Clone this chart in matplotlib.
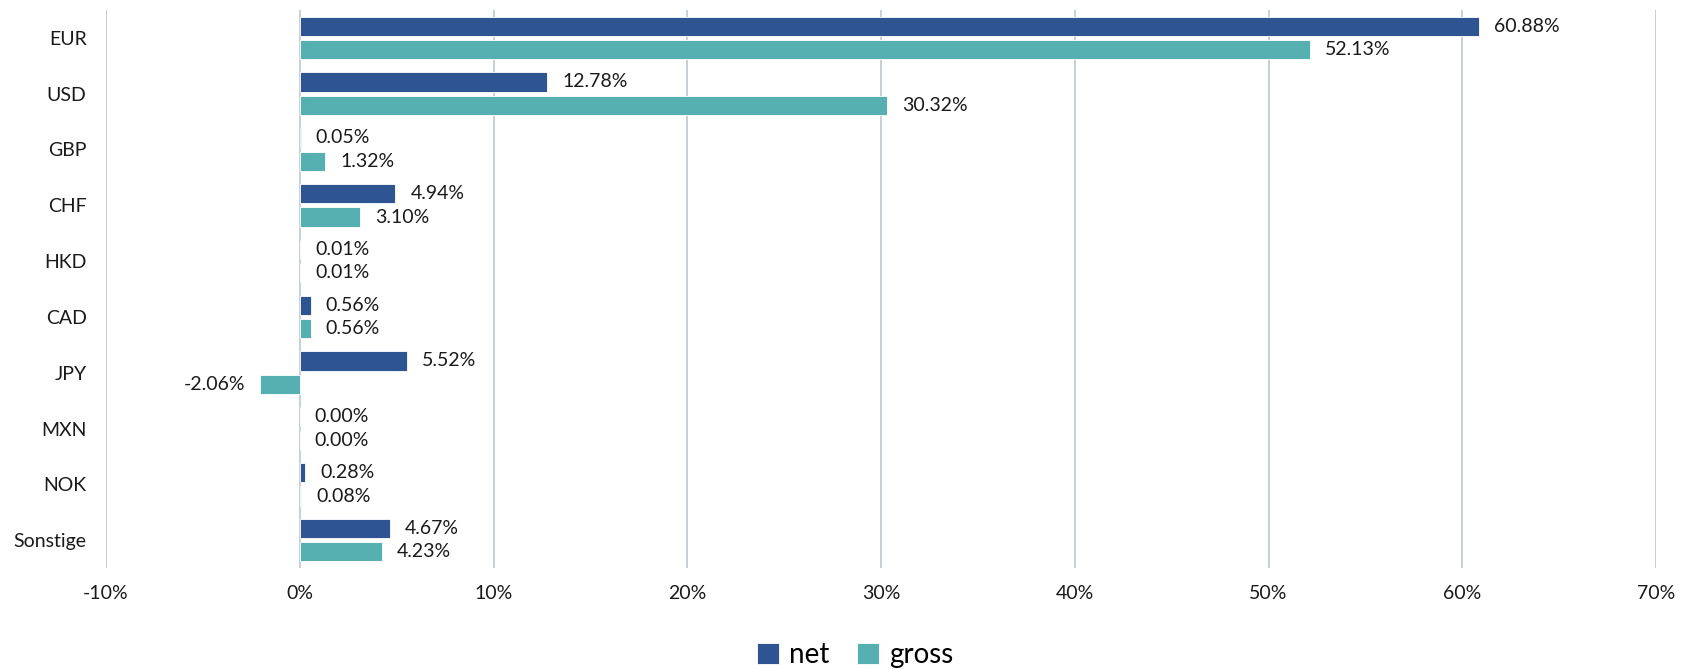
import matplotlib
matplotlib.use("Agg")
import matplotlib.pyplot as plt
import numpy as np

categories = ["EUR", "USD", "GBP", "CHF", "HKD", "CAD", "JPY", "MXN", "NOK", "Sonstige"]
net = [60.88, 12.78, 0.05, 4.94, 0.01, 0.56, 5.52, 0.00, 0.28, 4.67]
gross = [52.13, 30.32, 1.32, 3.10, 0.01, 0.56, -2.06, 0.00, 0.08, 4.23]
xticks = [-10, 0, 10, 20, 30, 40, 50, 60, 70]

plt.rcParams['font.family'] = ['Lato', 'DejaVu Sans']

W, H = 1694, 669
fig = plt.figure(figsize=(W / 100, H / 100), dpi=100)
ax = fig.add_axes([106 / W, 1 - 568 / H, (1656 - 106) / W, (568 - 10) / H])

c_net = "#2E5491"
c_gross = "#56AFB0"
fs = 14

y = np.arange(len(categories))
h = 0.345
off = 0.21
ax.barh(y - off, net, height=h, color=c_net, edgecolor="white", linewidth=0.6, label="net", zorder=3)
ax.barh(y + off, gross, height=h, color=c_gross, edgecolor="white", linewidth=0.6, label="gross", zorder=3)

for series, yy in ((net, y - off), (gross, y + off)):
    for yi, v in zip(yy, series):
        ax.annotate(f"{v:.2f}%", (v, yi), xytext=(15 if v >= 0 else -15, 0), textcoords="offset pixels",
                    ha="left" if v >= 0 else "right", va="center", fontsize=fs, color="#1a1a1a")

ax.set_xlim(-10, 70)
ax.set_ylim(len(categories) - 0.5, -0.5)
ax.set_xticks(xticks)
ax.set_xticklabels([f"{t}%" for t in xticks], fontsize=fs, color="#1a1a1a")
ax.set_yticks(y)
ax.set_yticklabels(categories, fontsize=fs, color="#1a1a1a")
ax.tick_params(axis="both", length=0)
ax.tick_params(axis="x", pad=12)
ax.tick_params(axis="y", pad=14)
ax.grid(axis="x", color="#C3CED2", linewidth=1.3, zorder=0)
for s in ax.spines.values():
    s.set_visible(False)

leg = fig.legend(loc="center", bbox_to_anchor=(855 / W, 1 - 655 / H), ncol=2, frameon=False,
                 fontsize=20, handlelength=0.8, handleheight=0.8, handletextpad=0.35, columnspacing=1.0)

fig.savefig("out.png", dpi=100, facecolor="white")
